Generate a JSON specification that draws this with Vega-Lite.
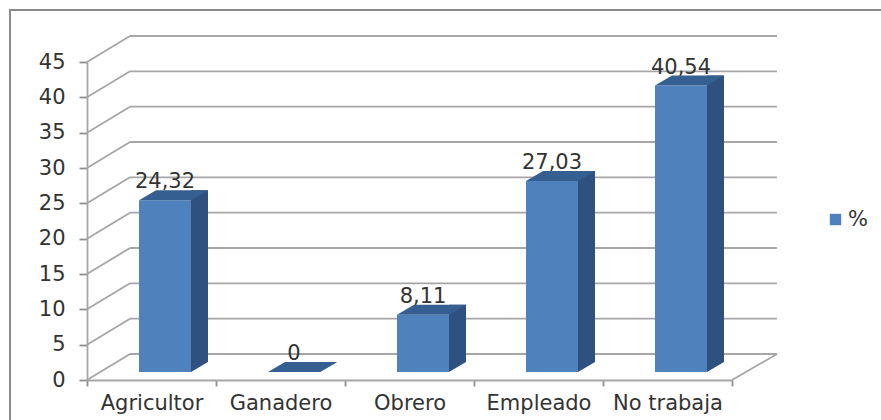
{
"$schema":"https://vega.github.io/schema/vega-lite/v6.json",
"width":645,"height":318,
"autosize":{"type":"none"},
"padding":{"left":87,"top":62,"right":149,"bottom":40},
"background":"#ffffff",
"config":{"view":{"stroke":null},"font":"DejaVu Sans",
"axisY":{"tickCount":10,"labelOverlap":false,"grid":false,"labelFontSize":21,"labelColor":"#333333","labelPadding":14,"tickSize":8,"tickColor":"#8f8f8f","tickWidth":1.8,"domainColor":"#a6a6a6","domainWidth":1.8}},
"datasets":{
"barras":[
{"ocupacion":"Agricultor","valor":24.32,"etiqueta":"24,32"},
{"ocupacion":"Ganadero","valor":0,"etiqueta":"0"},
{"ocupacion":"Obrero","valor":8.11,"etiqueta":"8,11"},
{"ocupacion":"Empleado","valor":27.03,"etiqueta":"27,03"},
{"ocupacion":"No trabaja","valor":40.54,"etiqueta":"40,54"}
],
"marcas":[{"v":0},{"v":5},{"v":10},{"v":15},{"v":20},{"v":25},{"v":30},{"v":35},{"v":40},{"v":45}]
},
"resolve":{"scale":{"x":"independent"}},
"layer":[
{"data":{"values":[{"p":1}]},
 "mark":{"type":"rect","fill":null,"stroke":"#8a8a8a","strokeWidth":2},
 "encoding":{
  "x":{"datum":-0.597,"type":"quantitative","scale":{"domain":[0,5],"nice":false,"zero":false},"axis":null},
  "x2":{"datum":6.3},
  "y":{"datum":52.36,"type":"quantitative","scale":{"domain":[0,45],"nice":false},
   "axis":{"title":null,"values":[0,5,10,15,20,25,30,35,40,45]}},
  "y2":{"datum":-7}
 }},
{"data":{"name":"marcas"},
 "mark":{"type":"rule","stroke":"#a6a6a6","strokeWidth":1.8,"yOffset":-26,"y2Offset":-26},
 "encoding":{
  "x":{"datum":0.3333,"type":"quantitative","scale":{"domain":[0,5],"nice":false,"zero":false},"axis":null},
  "x2":{"datum":5.349},
  "y":{"field":"v","type":"quantitative"},
  "y2":{"field":"v"}
 }},
{"data":{"name":"marcas"},
 "mark":{"type":"rule","stroke":"#a6a6a6","strokeWidth":1.8,"y2Offset":-26},
 "encoding":{
  "x":{"datum":0,"type":"quantitative","scale":{"domain":[0,5],"nice":false,"zero":false},"axis":null},
  "x2":{"datum":0.3333},
  "y":{"field":"v","type":"quantitative"},
  "y2":{"field":"v"}
 }},
{"data":{"values":[{"v":0}]},
 "mark":{"type":"rule","stroke":"#a6a6a6","strokeWidth":1.8,"y2Offset":-26},
 "encoding":{
  "x":{"datum":5,"type":"quantitative","scale":{"domain":[0,5],"nice":false,"zero":false},"axis":null},
  "x2":{"datum":5.349},
  "y":{"field":"v","type":"quantitative"},
  "y2":{"field":"v"}
 }},
{"data":{"name":"barras"},
 "layer":[
  {"mark":{"type":"bar","width":17,"xOffset":48,"yOffset":-18,"y2Offset":-18,"fill":"#2f5180"},
   "encoding":{
    "x":{"field":"ocupacion","type":"nominal","sort":null,"scale":{"paddingInner":0,"paddingOuter":0},
     "axis":{"title":null,"labelAngle":0,"labelFontSize":21,"labelColor":"#333333","labelPadding":6,"tickBand":"extent","tickSize":6,"tickColor":"#8f8f8f","tickWidth":1.8,"domainColor":"#a6a6a6","domainWidth":1.8}},
    "y":{"field":"valor","type":"quantitative"},
    "y2":{"datum":0}
   }},
  {"mark":{"type":"point","shape":"M39.5,0L39.5,-10L56.5,-10Z","size":4,"filled":true,"opacity":1,"fill":"#2f5180","strokeWidth":0,"yOffset":-8,"xOffset":0},
   "encoding":{
    "x":{"field":"ocupacion","type":"nominal","sort":null},
    "y":{"datum":0,"type":"quantitative"}
   }},
  {"mark":{"type":"bar","width":52,"xOffset":13.5,"yOffset":-8,"y2Offset":-8},
   "encoding":{
    "x":{"field":"ocupacion","type":"nominal","sort":null},
    "y":{"field":"valor","type":"quantitative"},
    "y2":{"datum":0},
    "color":{"datum":"%","type":"nominal","scale":{"domain":["%"],"range":["#4f81bd"]},
     "legend":{"title":null,"orient":"none","legendX":738,"legendY":147,"symbolType":"square","symbolSize":130,"symbolStrokeWidth":0,"labelFontSize":21,"labelColor":"#333333","labelOffset":2,"padding":0}}
   }},
  {"mark":{"type":"point","shape":"M-26,0L26,0L43,-10L-9,-10Z","size":4,"filled":true,"opacity":1,"fill":"#365f91","strokeWidth":0,"xOffset":13.5,"yOffset":-8},
   "encoding":{
    "x":{"field":"ocupacion","type":"nominal","sort":null},
    "y":{"field":"valor","type":"quantitative"}
   }},
  {"mark":{"type":"text","fontSize":21,"fill":"#333333","baseline":"alphabetic","align":"center","xOffset":13.5,"yOffset":-20},
   "encoding":{
    "x":{"field":"ocupacion","type":"nominal","sort":null},
    "y":{"field":"valor","type":"quantitative"},
    "text":{"field":"etiqueta","type":"nominal"}
   }}
 ]}
]
}
